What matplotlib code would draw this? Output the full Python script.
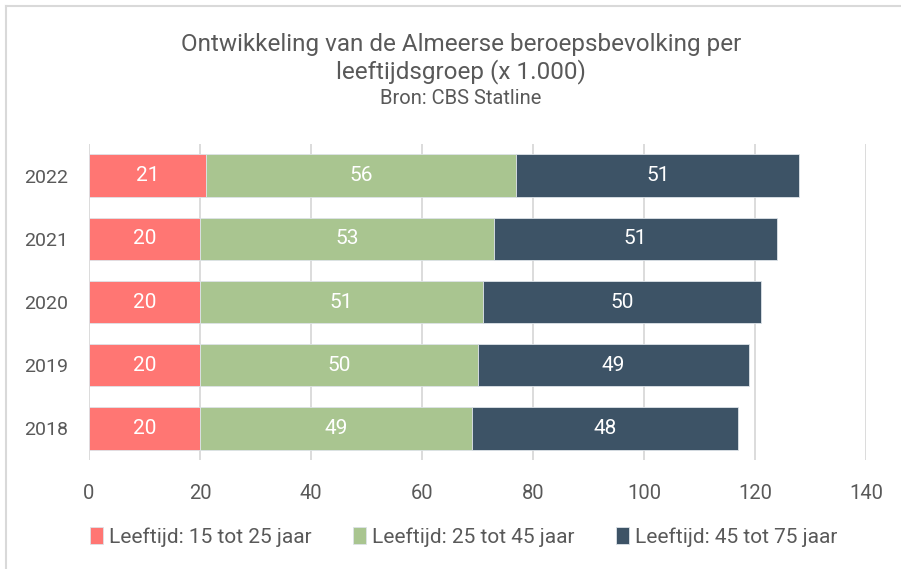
import matplotlib
matplotlib.use("Agg")
import matplotlib.pyplot as plt
from matplotlib.lines import Line2D

years = ["2018", "2019", "2020", "2021", "2022"]
age_15_25 = [20, 20, 20, 20, 21]
age_25_45 = [49, 50, 51, 53, 56]
age_45_75 = [48, 49, 50, 51, 51]
series_labels = ["Leeftijd: 15 tot 25 jaar", "Leeftijd: 25 tot 45 jaar",
                 "Leeftijd: 45 tot 75 jaar"]
colors = ["#FF7673", "#A9C590", "#3D5366"]
x_ticks = [0, 20, 40, 60, 80, 100, 120, 140]

main_font = "Roboto"
txt_col = "#595959"

W, H = 901, 569
fig = plt.figure(figsize=(W / 100, H / 100), dpi=100, facecolor="white")
ax = fig.add_axes([89 / W, 1 - 460 / H, (866 - 89) / W, (460 - 144) / H])

y = range(len(years))
left = [0] * len(years)
for vals, col, lab in zip([age_15_25, age_25_45, age_45_75], colors, series_labels):
    bars = ax.barh(y, vals, left=left, height=0.67, color=col,
                   edgecolor="#DDE3E8", linewidth=0.6, label=lab, zorder=3)
    for b, v in zip(bars, vals):
        ax.text(b.get_x() + b.get_width() / 2, b.get_y() + b.get_height() / 2,
                str(v), ha="center", va="center", color="white",
                fontsize=15, family=main_font, zorder=4)
    left = [l + v for l, v in zip(left, vals)]

ax.set_xlim(0, 140)
ax.set_ylim(-0.5, len(years) - 0.5)
ax.set_xticks(x_ticks)
ax.set_xticklabels([str(t) for t in x_ticks], family=main_font,
                   fontsize=14.5, color=txt_col)
ax.set_yticks(list(y))
ax.set_yticklabels(years, family=main_font, fontsize=14, color=txt_col)
ax.tick_params(axis="x", length=0, pad=17)
ax.tick_params(axis="y", length=0, pad=15)
ax.grid(axis="x", color="#D9D9D9", linewidth=1.3, zorder=0)
for s in ax.spines.values():
    s.set_visible(False)

cx = 461 / W
fig.text(cx, 1 - 44 / H, "Ontwikkeling van de Almeerse beroepsbevolking per",
         ha="center", va="center", fontsize=17.5, color=txt_col, family=main_font)
fig.text(cx, 1 - 72 / H, "leeftijdsgroep (x 1.000)",
         ha="center", va="center", fontsize=17.5, color=txt_col, family=main_font)
fig.text(cx, 1 - 99 / H, "Bron: CBS Statline",
         ha="center", va="center", fontsize=14.5, color=txt_col, family=main_font)

fig.legend(loc="center", bbox_to_anchor=(464 / W, 1 - 537 / H), ncol=3,
           frameon=False, prop={"family": main_font, "size": 15},
           labelcolor=txt_col, handlelength=0.6, handleheight=0.9,
           handletextpad=0.3, columnspacing=2.0)

fig.add_artist(Line2D([6 / W, 6 / W], [0, 1 - 6 / H], color="#D9D9D9", linewidth=1.5))
fig.add_artist(Line2D([6 / W, 1], [1 - 6 / H, 1 - 6 / H], color="#D9D9D9", linewidth=1.5))

fig.savefig("out.png", dpi=100, facecolor="white")
